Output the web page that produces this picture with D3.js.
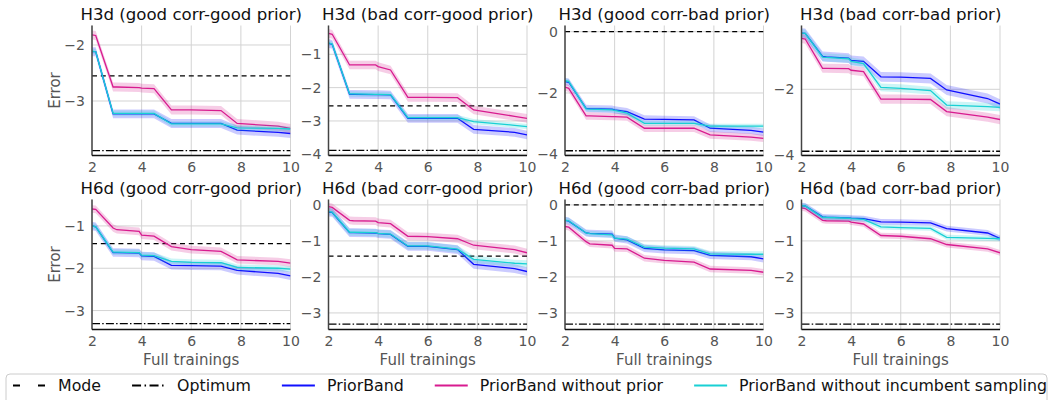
<!DOCTYPE html>
<html>
<head>
<meta charset="utf-8">
<script src="https://cdn.jsdelivr.net/npm/d3@7"></script>
<style>
  body { margin: 0; background: #fff; }
  text { font-family: "DejaVu Sans", sans-serif; }
</style>
</head>
<body>
<svg id="chart" width="1049" height="400"></svg>
<script>
// Full trainings at which each run's incumbent error was recorded
const steps = [2, 2.15, 2.85, 3, 3.9, 4, 4.5, 5.2, 6, 7.2, 7.85, 9.5, 10];

const panelTitles = [
  "H3d (good corr-good prior)", "H3d (bad corr-good prior)",
  "H3d (good corr-bad prior)", "H3d (bad corr-bad prior)",
  "H6d (good corr-good prior)", "H6d (bad corr-good prior)",
  "H6d (good corr-bad prior)", "H6d (bad corr-bad prior)"
];

// Mean error per panel, one row per benchmark
const priorBandMean = [
  [-2.12, -2.12, -3.23, -3.23, -3.23, -3.23, -3.23, -3.40, -3.40, -3.40, -3.52, -3.56, -3.58],
  [-0.67, -0.70, -2.20, -2.20, -2.21, -2.21, -2.22, -2.92, -2.92, -2.92, -3.25, -3.34, -3.42],
  [-1.63, -1.65, -2.50, -2.51, -2.53, -2.55, -2.61, -2.85, -2.86, -2.88, -3.15, -3.22, -3.28],
  [-0.29, -0.30, -1.00, -1.01, -1.05, -1.12, -1.15, -1.62, -1.63, -1.67, -2.02, -2.28, -2.45],
  [-1.00, -1.02, -1.63, -1.63, -1.64, -1.71, -1.72, -1.93, -1.94, -1.95, -2.05, -2.12, -2.18],
  [-0.20, -0.21, -0.77, -0.77, -0.78, -0.80, -0.82, -1.15, -1.15, -1.24, -1.65, -1.77, -1.85],
  [-0.43, -0.45, -0.78, -0.79, -0.81, -0.92, -0.97, -1.21, -1.25, -1.27, -1.40, -1.44, -1.50],
  [-0.02, -0.03, -0.33, -0.34, -0.36, -0.37, -0.38, -0.47, -0.48, -0.50, -0.66, -0.78, -0.93]
];
const noPriorMean = [
  [-1.82, -1.83, -2.75, -2.75, -2.76, -2.77, -2.78, -3.16, -3.16, -3.17, -3.40, -3.45, -3.49],
  [-0.37, -0.40, -1.32, -1.32, -1.32, -1.37, -1.47, -2.29, -2.29, -2.30, -2.67, -2.86, -2.92],
  [-1.81, -1.85, -2.75, -2.75, -2.77, -2.77, -2.79, -3.15, -3.15, -3.15, -3.37, -3.44, -3.48],
  [-0.45, -0.47, -1.36, -1.36, -1.37, -1.42, -1.46, -2.30, -2.30, -2.31, -2.68, -2.85, -2.92],
  [-0.60, -0.61, -1.05, -1.09, -1.13, -1.22, -1.24, -1.49, -1.56, -1.60, -1.80, -1.84, -1.88],
  [-0.05, -0.07, -0.43, -0.44, -0.45, -0.49, -0.52, -0.87, -0.88, -0.94, -1.12, -1.24, -1.33],
  [-0.60, -0.62, -1.02, -1.08, -1.12, -1.21, -1.22, -1.48, -1.54, -1.59, -1.78, -1.82, -1.87],
  [-0.08, -0.10, -0.43, -0.44, -0.45, -0.48, -0.53, -0.85, -0.87, -0.94, -1.10, -1.22, -1.33]
];
const noIncumbentMean = [
  [-2.11, -2.12, -3.22, -3.22, -3.22, -3.22, -3.22, -3.41, -3.41, -3.41, -3.48, -3.49, -3.50],
  [-0.66, -0.69, -2.19, -2.19, -2.20, -2.20, -2.21, -2.90, -2.90, -2.90, -3.02, -3.13, -3.17],
  [-1.60, -1.62, -2.52, -2.53, -2.55, -2.57, -2.66, -2.99, -2.99, -2.99, -3.08, -3.08, -3.08],
  [-0.29, -0.30, -1.02, -1.03, -1.07, -1.15, -1.22, -1.94, -1.97, -2.04, -2.48, -2.53, -2.55],
  [-1.00, -1.02, -1.62, -1.62, -1.63, -1.69, -1.70, -1.84, -1.86, -1.87, -1.98, -2.00, -2.02],
  [-0.18, -0.20, -0.76, -0.76, -0.77, -0.79, -0.81, -1.14, -1.14, -1.23, -1.51, -1.62, -1.64],
  [-0.42, -0.44, -0.78, -0.80, -0.83, -0.92, -0.95, -1.17, -1.20, -1.22, -1.36, -1.37, -1.37],
  [-0.02, -0.03, -0.35, -0.35, -0.37, -0.38, -0.40, -0.61, -0.63, -0.65, -0.90, -0.93, -0.94]
];

// Standard error half-widths per panel
const priorBandErr = [0.08, 0.13, 0.12, 0.15, 0.10, 0.12, 0.10, 0.08];
const noPriorErr = [0.08, 0.13, 0.12, 0.14, 0.09, 0.11, 0.09, 0.08];
const noIncumbentErr = [0.05, 0.08, 0.08, 0.12, 0.07, 0.10, 0.08, 0.07];

// Reference levels (null = not shown)
const modeValues = [-2.55, -2.55, 0, null, -1.42, -1.42, 0, null];
const optimumValues = [-3.885, -3.885, -3.885, -3.885, -3.31, -3.31, -3.31, -3.31];

// Axis ranges and ticks
const yLimits = [
  [-3.973, -1.652], [-4.036, -0.136], [-4.04, 0.202], [-4.015, -0.058],
  [-3.447, -0.376], [-3.46, 0.15], [-3.46, 0.15], [-3.46, 0.15]
];
const yTicks = [
  [-3, -2], [-4, -3, -2, -1], [-4, -2, 0], [-4, -2],
  [-3, -2, -1], [-3, -2, -1, 0], [-3, -2, -1, 0], [-3, -2, -1, 0]
];
const xTicks = [2, 4, 6, 8, 10];

const seriesNames = ["PriorBand", "PriorBand without prior", "PriorBand without incumbent sampling"];
const seriesColors = ["#1010ff", "#d81b8f", "#19d0d4"];
const seriesMeans = [priorBandMean, noPriorMean, noIncumbentMean];
const seriesErrs = [priorBandErr, noPriorErr, noIncumbentErr];

const svg = d3.select("#chart");
const colLeft = [92, 328.5, 565, 801.5];
const rowTop = [25.5, 199.5];
const plotW = 198.5, plotH = 130;
const modeDash = "5,3.8";
const optDash = "8,2.2,1.5,2.2";
const intFmt = d3.format("d");

panelTitles.forEach((title, i) => {
  const row = Math.floor(i / 4), col = i % 4;
  const g = svg.append("g").attr("transform", `translate(${colLeft[col]},${rowTop[row]})`);
  const x = d3.scaleLinear().domain([2, 10]).range([0, plotW]);
  const y = d3.scaleLinear().domain(yLimits[i]).range([plotH, 0]);

  g.append("clipPath").attr("id", "clip" + i)
    .append("rect").attr("width", plotW).attr("height", plotH);

  // grid
  g.append("g").selectAll("line").data(xTicks).join("line")
    .attr("x1", d => x(d)).attr("x2", d => x(d)).attr("y1", 0).attr("y2", plotH)
    .attr("stroke", "#d3d3d3").attr("stroke-width", 1);
  g.append("g").selectAll("line").data(yTicks[i]).join("line")
    .attr("x1", 0).attr("x2", plotW).attr("y1", d => y(d)).attr("y2", d => y(d))
    .attr("stroke", "#d3d3d3").attr("stroke-width", 1);

  const body = g.append("g").attr("clip-path", `url(#clip${i})`);

  if (modeValues[i] !== null) {
    body.append("line").attr("x1", x(2)).attr("x2", x(10))
      .attr("y1", y(modeValues[i])).attr("y2", y(modeValues[i]))
      .attr("stroke", "#000").attr("stroke-width", 1.3).attr("stroke-dasharray", modeDash);
  }
  body.append("line").attr("x1", x(2)).attr("x2", x(10))
    .attr("y1", y(optimumValues[i])).attr("y2", y(optimumValues[i]))
    .attr("stroke", "#000").attr("stroke-width", 1.3).attr("stroke-dasharray", optDash);

  seriesMeans.forEach((means, s) => {
    const vals = means[i];
    const err = seriesErrs[s][i];
    const pts = steps.map((t, k) => ({ t, v: vals[k] }));
    body.append("path").datum(pts)
      .attr("d", d3.area().x(d => x(d.t)).y0(d => y(d.v - err)).y1(d => y(d.v + err)))
      .attr("fill", seriesColors[s]).attr("fill-opacity", 0.22).attr("stroke", "none");
    body.append("path").datum(pts)
      .attr("d", d3.line().x(d => x(d.t)).y(d => y(d.v)))
      .attr("fill", "none").attr("stroke", seriesColors[s]).attr("stroke-width", 1.3);
  });

  // axes
  const ya = g.append("g").call(d3.axisLeft(y).tickValues(yTicks[i]).tickFormat(intFmt)
    .tickSize(0).tickPadding(7));
  const xa = g.append("g").attr("transform", `translate(0,${plotH})`)
    .call(d3.axisBottom(x).tickValues(xTicks).tickFormat(intFmt).tickSize(0).tickPadding(7));
  [ya, xa].forEach(a => {
    a.select(".domain").remove();
    a.selectAll("text").attr("font-size", 14).attr("fill", "#555")
      .attr("font-family", "DejaVu Sans, sans-serif");
  });

  // spines
  g.append("line").attr("x1", 0).attr("x2", 0).attr("y1", 0).attr("y2", plotH)
    .attr("stroke", "#444").attr("stroke-width", 1.5);
  g.append("line").attr("x1", 0).attr("x2", plotW).attr("y1", plotH).attr("y2", plotH)
    .attr("stroke", "#111").attr("stroke-width", 1.5);

  g.append("text").attr("x", plotW / 2).attr("y", -6).attr("text-anchor", "middle")
    .attr("font-size", 16.6).attr("fill", "#111").text(title);

  if (col === 0) {
    g.append("text").attr("transform", `translate(${55 - colLeft[0]},${plotH / 2}) rotate(-90)`)
      .attr("text-anchor", "middle").attr("dy", "0.35em")
      .attr("font-size", 15).attr("fill", "#555").text("Error");
  }
  if (row === 1) {
    g.append("text").attr("x", plotW / 2).attr("y", plotH + 35).attr("text-anchor", "middle")
      .attr("font-size", 15).attr("fill", "#555").text("Full trainings");
  }
});

// legend
const legend = svg.append("g");
legend.append("rect").attr("x", 6).attr("y", 374).attr("width", 1041).attr("height", 40)
  .attr("rx", 4).attr("fill", "#fff").attr("stroke", "#ccc").attr("stroke-width", 1);

const legendItems = [
  { label: "Mode", color: "#000", dash: "7,18" },
  { label: "Optimum", color: "#000", dash: "9,3.5,1.5,3.5" },
  ...seriesNames.map((n, s) => ({ label: n, color: seriesColors[s], dash: null }))
];
let lx = 13;
const handleLen = 33, ly = 385.5;
legendItems.forEach(item => {
  const ln = legend.append("line").attr("x1", lx).attr("x2", lx + handleLen)
    .attr("y1", ly).attr("y2", ly).attr("stroke", item.color).attr("stroke-width", 1.8);
  if (item.dash) ln.attr("stroke-dasharray", item.dash);
  const t = legend.append("text").attr("x", lx + handleLen + 12).attr("y", 391)
    .attr("font-size", 15.8).attr("fill", "#111").text(item.label);
  lx += handleLen + 12 + t.node().getComputedTextLength() + 31;
});
</script>
</body>
</html>
